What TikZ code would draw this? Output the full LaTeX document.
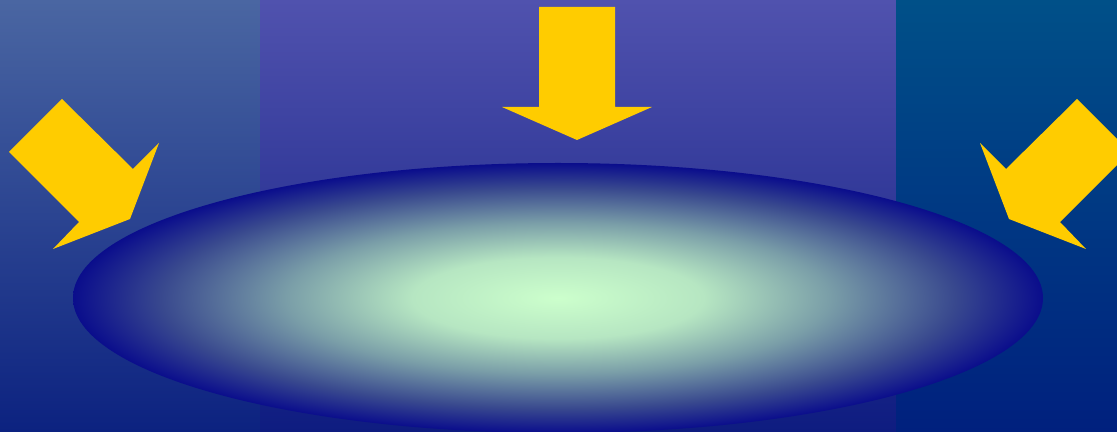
\documentclass[tikz,border=0pt]{standalone}
\usepackage{xcolor}
\usepackage{tikz}
\usetikzlibrary{calc}

\definecolor{sideTop}{RGB}{74,102,162}
\definecolor{sideBot}{RGB}{12,34,128}
\definecolor{midTop}{RGB}{80,82,174}
\definecolor{midBot}{RGB}{14,28,128}
\definecolor{rightTop}{RGB}{0,80,136}
\definecolor{rightBot}{RGB}{0,32,126}
\definecolor{lensIn}{RGB}{204,255,204}
\definecolor{lensA}{RGB}{182,230,194}
\definecolor{lensB}{RGB}{122,158,168}
\definecolor{lensC}{RGB}{56,72,142}
\definecolor{lensOut}{RGB}{0,0,140}
\definecolor{beam}{RGB}{255,204,0}

\pgfdeclareradialshading{lensglow}{\pgfpoint{0bp}{0bp}}{color(0bp)=(lensIn); color(7.5bp)=(lensA); color(14bp)=(lensB); color(20.5bp)=(lensC); color(26bp)=(lensOut); color(50bp)=(lensOut)}

\begin{document}
\begin{tikzpicture}[x=0.02cm, y=-0.02cm, beamarrow/.style={fill=beam, draw=none}]
\useasboundingbox (0,0) rectangle (1117,432);

\shade[top color=sideTop, bottom color=sideBot] (0,0) rectangle (260,432);
\shade[top color=midTop, bottom color=midBot] (260,0) rectangle (896,432);
\shade[top color=rightTop, bottom color=rightBot] (896,0) rectangle (1117,432);

\shade[shading=lensglow] (558,298) ellipse [x radius=485, y radius=135];

\fill[beamarrow] (62,99) -- (9,152) -- (79,222) -- (53,249) -- (130,219) -- (159,143) -- (133,169) -- cycle;
\fill[beamarrow] (539,7) -- (615,7) -- (615,107) -- (652,107) -- (577,140) -- (502,107) -- (539,107) -- cycle;
\fill[beamarrow] (1077,99) -- (1130,152) -- (1060,222) -- (1086,249) -- (1009,219) -- (980,143) -- (1006,169) -- cycle;
\end{tikzpicture}
\end{document}
